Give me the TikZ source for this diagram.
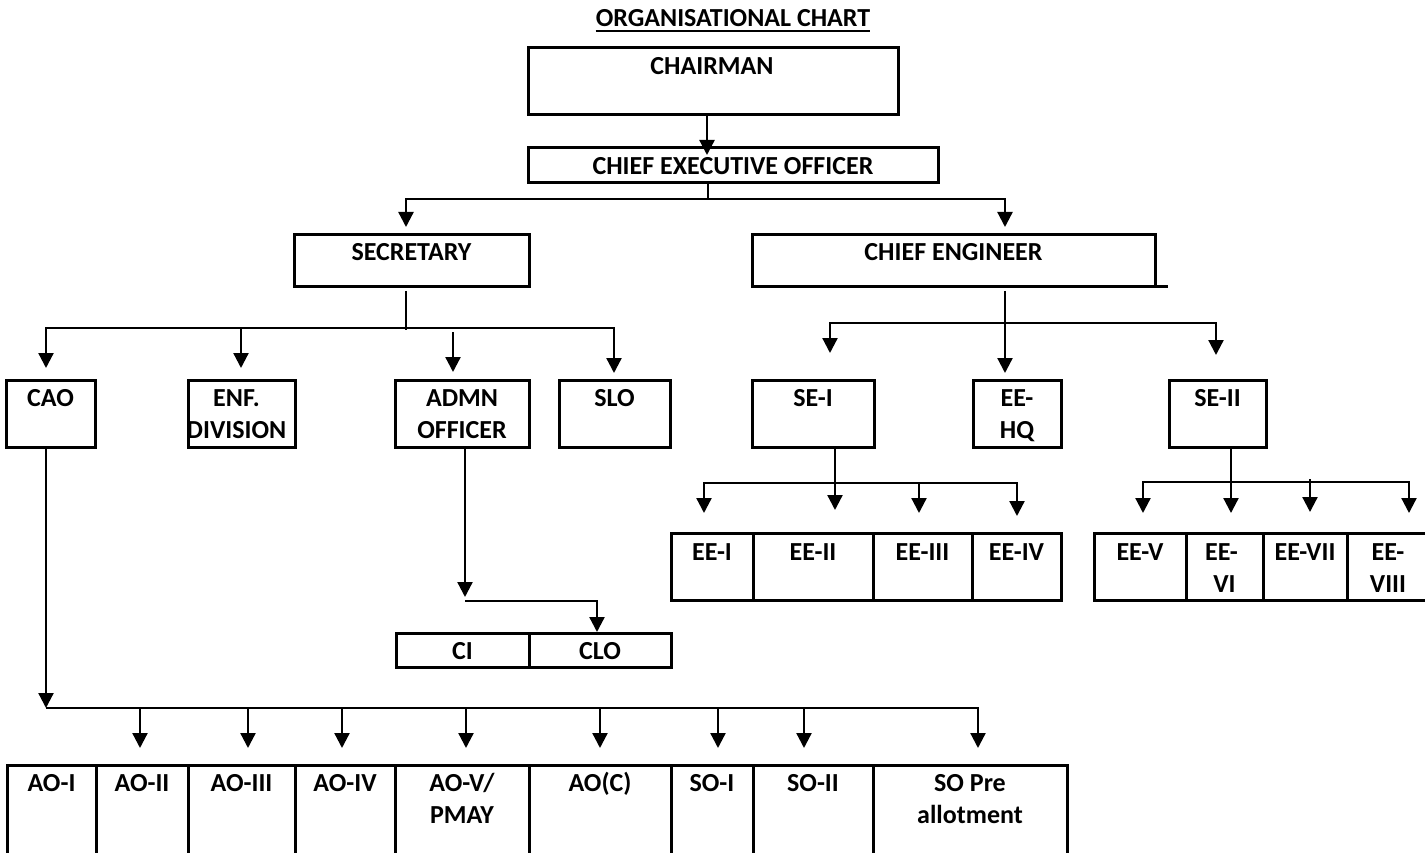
\documentclass[tikz,border=0pt]{standalone}
\usepackage{fontspec}
\setmainfont{Carlito}
\usetikzlibrary{arrows.meta,calc}
\newcommand\lbfont{\fontsize{26}{32}\selectfont\bfseries}
\newcommand\mkbox[5]{\node[orgbox, minimum width={(#4-#2)*1pt}, minimum height={(#5-#3)*1pt}] (#1) at ({(#2+#4)/2},{(#3+#5)/2}) {};}
\tikzset{
  orgbox/.style={draw, line width=3pt, inner sep=0pt, outer sep=0pt},
  conn/.style={line width=2.3pt},
  arr/.style={conn, -{Triangle[width=15pt,length=15pt]}},
  lbl/.style={font=\lbfont, anchor=base, inner sep=0pt},
}
\begin{document}
\begin{tikzpicture}[x=1pt,y=-1pt]
\useasboundingbox (0,0) rectangle (1425,853);
\clip (0,0) rectangle (1425,853);
% title
\node[lbl] (title) at (733,27) {ORGANISATIONAL CHART};
\draw[line width=2pt] ($(title.base west)+(0,4)$) -- ($(title.base east)+(0,4)$);
% boxes
\mkbox{chair}{528}{48}{898}{115}
\mkbox{ceo}{528}{148}{938}{183}
\mkbox{sec}{294}{235}{529}{287}
\mkbox{ce}{752}{235}{1155}{287}
\draw[line width=3pt] (ce.south east) -- ++(13,0);
\mkbox{cao}{6}{380}{95}{447}
\mkbox{enf}{188}{380}{295}{447}
\mkbox{admn}{395}{380}{529}{447}
\mkbox{slo}{559}{380}{670}{447}
\mkbox{se1}{752}{380}{874}{447}
\mkbox{eehq}{973}{380}{1061}{447}
\mkbox{se2}{1169}{380}{1266}{447}
\mkbox{ci}{396}{633}{529}{667}
\mkbox{clo}{529}{633}{671}{667}
\mkbox{ee1}{671}{533}{753}{600}
\mkbox{ee2}{753}{533}{873}{600}
\mkbox{ee3}{873}{533}{972}{600}
\mkbox{ee4}{972}{533}{1061}{600}
\mkbox{ee5}{1094}{533}{1186}{600}
\mkbox{ee6}{1186}{533}{1263}{600}
\mkbox{ee7}{1263}{533}{1347}{600}
\mkbox{ee8}{1347}{533}{1429}{600}
\mkbox{ao1}{7}{765}{96}{870}
\mkbox{ao2}{96}{765}{188}{870}
\mkbox{ao3}{188}{765}{295}{870}
\mkbox{ao4}{295}{765}{395}{870}
\mkbox{ao5}{395}{765}{529}{870}
\mkbox{aoc}{529}{765}{671}{870}
\mkbox{so1}{671}{765}{753}{870}
\mkbox{so2}{753}{765}{873}{870}
\mkbox{sopre}{873}{765}{1067}{870}
% labels
\node[lbl] (chair-t) at ($(chair.north)+(-1,27)$) {CHAIRMAN};
\node[lbl] (ceo-t) at ($(ceo.north)+(0,27)$) {CHIEF EXECUTIVE OFFICER};
\node[lbl] (sec-t) at ($(sec.north)+(0,26)$) {SECRETARY};
\node[lbl] (ce-t) at ($(ce.north)+(0,26)$) {CHIEF ENGINEER};
\node[lbl] (cao-t) at ($(cao.north)+(0,26)$) {CAO};
\node[lbl] (enf-t1) at ($(enf.north)+(-5,26)$) {ENF.};
\node[lbl] (enf-t2) at ($(enf.north)+(-5,58)$) {DIVISION};
\node[lbl] (admn-t1) at ($(admn.north)+(0,26)$) {ADMN};
\node[lbl] (admn-t2) at ($(admn.north)+(0,58)$) {OFFICER};
\node[lbl] (slo-t) at ($(slo.north)+(0,26)$) {SLO};
\node[lbl] (se1-t) at ($(se1.north)+(0,26)$) {SE-I};
\node[lbl] (eehq-t1) at ($(eehq.north)+(0,26)$) {EE-};
\node[lbl] (eehq-t2) at ($(eehq.north)+(0,58)$) {HQ};
\node[lbl] (se2-t) at ($(se2.north)+(0,26)$) {SE-II};
\node[lbl] (ci-t) at ($(ci.north)+(0,26)$) {CI};
\node[lbl] (clo-t) at ($(clo.north)+(0,26)$) {CLO};
\node[lbl] (ee1-t) at ($(ee1.north)+(0,27)$) {EE-I};
\node[lbl] (ee2-t) at ($(ee2.north)+(0,27)$) {EE-II};
\node[lbl] (ee3-t) at ($(ee3.north)+(0,27)$) {EE-III};
\node[lbl] (ee4-t) at ($(ee4.north)+(0,27)$) {EE-IV};
\node[lbl] (ee5-t) at ($(ee5.north)+(0,27)$) {EE-V};
\node[lbl] (ee6-t1) at ($(ee6.north)+(-3,27)$) {EE-};
\node[lbl] (ee6-t2) at ($(ee6.north)+(0,59)$) {VI};
\node[lbl] (ee7-t) at ($(ee7.north)+(0,27)$) {EE-VII};
\node[lbl] (ee8-t1) at ($(ee8.north)+(0,27)$) {EE-};
\node[lbl] (ee8-t2) at ($(ee8.north)+(0,59)$) {VIII};
\node[lbl] (ao1-t) at ($(ao1.north)+(0,26)$) {AO-I};
\node[lbl] (ao2-t) at ($(ao2.north)+(0,26)$) {AO-II};
\node[lbl] (ao3-t) at ($(ao3.north)+(0,26)$) {AO-III};
\node[lbl] (ao4-t) at ($(ao4.north)+(0,26)$) {AO-IV};
\node[lbl] (ao5-t1) at ($(ao5.north)+(0,26)$) {AO-V/};
\node[lbl] (ao5-t2) at ($(ao5.north)+(0,58)$) {PMAY};
\node[lbl] (aoc-t) at ($(aoc.north)+(0,26)$) {AO(C)};
\node[lbl] (so1-t) at ($(so1.north)+(0,26)$) {SO-I};
\node[lbl] (so2-t) at ($(so2.north)+(0,26)$) {SO-II};
\node[lbl] (sopre-t1) at ($(sopre.north)+(0,26)$) {SO Pre};
\node[lbl] (sopre-t2) at ($(sopre.north)+(0,58)$) {allotment};
% connectors: top
\draw[arr] ($(chair.south)+(-6,0)$) -- ($(ceo.north)+(-26,7)$);
\coordinate (ceoj) at ($(ceo.south)+(-25,16)$);
\draw[conn] ($(ceo.south)+(-25,0)$) -- (ceoj);
\draw[arr] (ceoj) -| ($(sec.north)+(-5.5,-8)$);
\draw[arr] (ceoj) -| ($(ce.north)+(51.5,-8)$);
% secretary
\coordinate (secj) at ($(sec.south)+(-5.5,41)$);
\draw[conn] ($(sec.south)+(-5.5,4)$) -- ($(sec.south)+(-5.5,43)$);
\draw[arr] (secj) -| ($(cao.north)+(-4.5,-12)$);
\draw[arr] (secj) -| ($(slo.north)+(-0.5,-7)$);
\draw[arr] ($(enf.north)+(-0.5,-52)$) -- ($(enf.north)+(-0.5,-12)$);
\draw[arr] ($(admn.north)+(-9,-48)$) -- ($(admn.north)+(-9,-8)$);
% chief engineer
\coordinate (cej) at ($(ce.south)+(51.5,36)$);
\draw[arr] ($(ce.south)+(51.5,4)$) -- ($(eehq.north)+(-12,-7)$);
\draw[arr] (cej) -| ($(se1.north)+(17,-27)$);
\draw[arr] (cej) -| ($(se2.north)+(-1.5,-25)$);
% SE-I
\coordinate (se1j) at ($(se1.south)+(22,36)$);
\draw[arr] ($(se1.south)+(22,0)$) -- ($(ee2.north)+(22,-23)$);
\draw[arr] (se1j) -| ($(ee1.north)+(-8,-20)$);
\draw[arr] (se1j) -| ($(ee4.north)+(0.5,-17)$);
\draw[arr] ($(ee3.north)+(-3.5,-50)$) -- ($(ee3.north)+(-3.5,-20)$);
% SE-II
\coordinate (se2j) at ($(se2.south)+(13.5,35)$);
\draw[arr] ($(se2.south)+(13.5,0)$) -- ($(ee6.north)+(6.5,-20)$);
\draw[arr] (se2j) -| ($(ee5.north)+(3,-20)$);
\draw[arr] (se2j) -| ($(ee8.north)+(21,-20)$);
\draw[arr] ($(ee7.north)+(5,-54)$) -- ($(ee7.north)+(5,-21)$);
% admn officer
\draw[arr] ($(admn.south)+(3,0)$) -- ($(ci.north)+(2.5,-36)$);
\draw[arr] ($(ci.north)+(2.5,-32)$) -| ($(clo.north)+(-3,-1)$);
% CAO
\coordinate (aoj) at ($(ao1.north)+(-5.5,-57)$);
\draw[arr] ($(cao.south)+(-4.5,0)$) -- (aoj);
\draw[conn] (aoj) -| ($(sopre.north)+(8,-40)$);
\draw[arr] ($(sopre.north)+(8,-57)$) -- ($(sopre.north)+(8,-17)$);
\draw[arr] ($(ao2.north)+(-2,-57)$) -- ($(ao2.north)+(-2,-17)$);
\draw[arr] ($(ao3.north)+(6.5,-57)$) -- ($(ao3.north)+(6.5,-17)$);
\draw[arr] ($(ao4.north)+(-3,-57)$) -- ($(ao4.north)+(-3,-17)$);
\draw[arr] ($(ao5.north)+(4,-57)$) -- ($(ao5.north)+(4,-17)$);
\draw[arr] ($(aoc.north)+(0,-57)$) -- ($(aoc.north)+(0,-17)$);
\draw[arr] ($(so1.north)+(6,-57)$) -- ($(so1.north)+(6,-17)$);
\draw[arr] ($(so2.north)+(-9,-57)$) -- ($(so2.north)+(-9,-17)$);
\end{tikzpicture}
\end{document}
